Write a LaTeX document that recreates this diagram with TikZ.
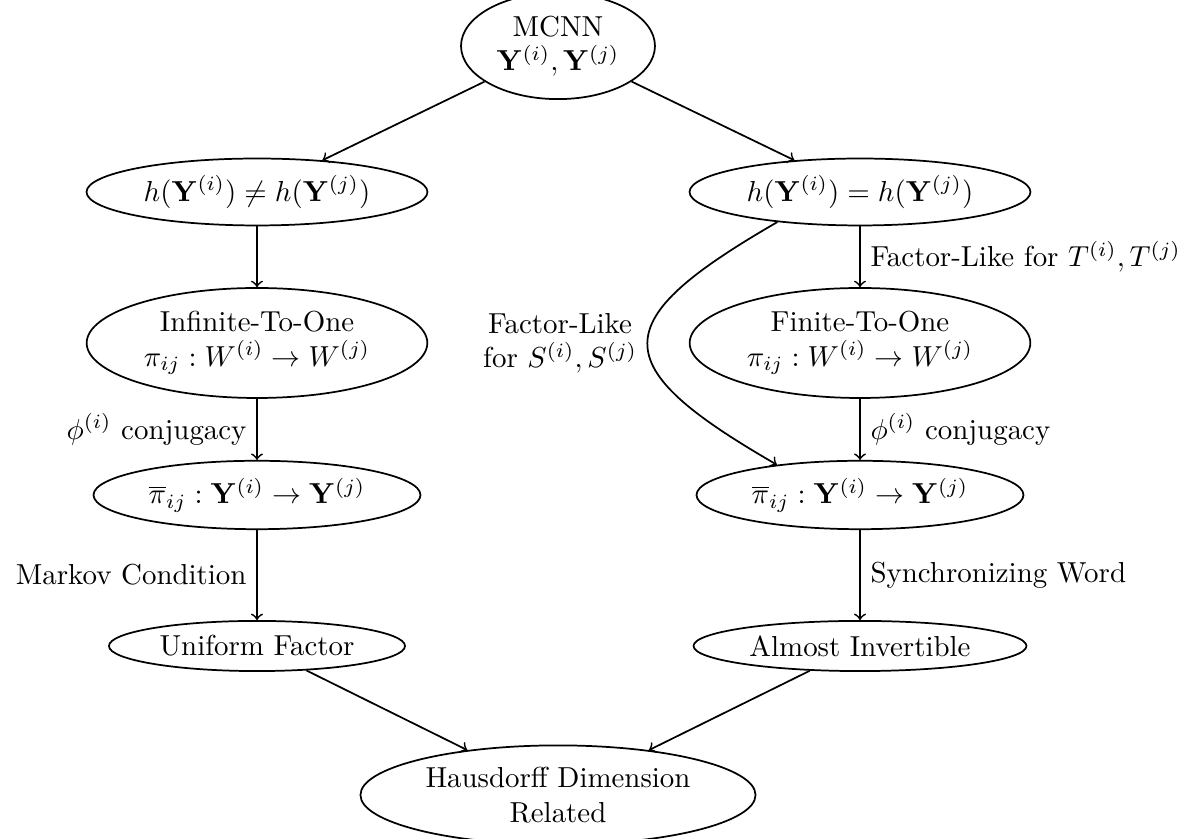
\documentclass[tikz,border=0pt]{standalone}
\usepackage{amsmath,amssymb}
\usetikzlibrary{shapes.geometric}

\tikzset{every picture/.style={line width=0.6pt}}
\tikzset{blob/.style={draw, ellipse, align=center, inner sep=2.5pt},
         flow/.style={->}}

\begin{document}
\begin{tikzpicture}[x=0.346pt,y=0.346pt,yscale=-1,xscale=1]
\useasboundingbox (0,0) rectangle (1199,839);

%Shape: Ellipse [top]
\node [blob] (mcnn) at (558,46) {MCNN\\$\mathbf{Y}^{(i)},\mathbf{Y}^{(j)}$};
%Shape: Ellipse [left column]
\node [blob] (hne) at (257,192) {$h(\mathbf{Y}^{(i)})\neq h(\mathbf{Y}^{(j)})$};
\node [blob] (inf) at (257,343) {Infinite-To-One\\$\pi_{ij}:W^{(i)}\to W^{(j)}$};
\node [blob] (pbl) at (257,495) {$\overline{\pi}_{ij}:\mathbf{Y}^{(i)}\to\mathbf{Y}^{(j)}$};
\node [blob] (uni) at (257,646) {Uniform Factor};
%Shape: Ellipse [right column]
\node [blob] (heq) at (860,192) {$h(\mathbf{Y}^{(i)})=h(\mathbf{Y}^{(j)})$};
\node [blob] (fin) at (860,343) {Finite-To-One\\$\pi_{ij}:W^{(i)}\to W^{(j)}$};
\node [blob] (pbr) at (860,495) {$\overline{\pi}_{ij}:\mathbf{Y}^{(i)}\to\mathbf{Y}^{(j)}$};
\node [blob] (alm) at (860,646) {Almost Invertible};
%Shape: Ellipse [bottom]
\node [blob] (hdr) at (558,795) {Hausdorff Dimension\\Related};

%Straight Lines
\draw [flow] (mcnn) -- (hne);
\draw [flow] (mcnn) -- (heq);
\draw [flow] (hne) -- (inf);
\draw [flow] (inf) -- node [left] {$\phi^{(i)}$ conjugacy} (pbl);
\draw [flow] (pbl) -- node [left] {Markov Condition} (uni);
\draw [flow] (heq) -- node [right] {Factor-Like for $T^{(i)},T^{(j)}$} (fin);
\draw [flow] (fin) -- node [right] {$\phi^{(i)}$ conjugacy} (pbr);
\draw [flow] (pbr) -- node [right] {Synchronizing Word} (alm);
\draw [flow] (uni) -- (hdr);
\draw [flow] (alm) -- (hdr);
%Curve
\draw [flow] (heq.200) to [out=150,in=210,looseness=2.1]
  node [left, align=center] {Factor-Like\\for $S^{(i)},S^{(j)}$} (pbr.160);

\end{tikzpicture}
\end{document}
